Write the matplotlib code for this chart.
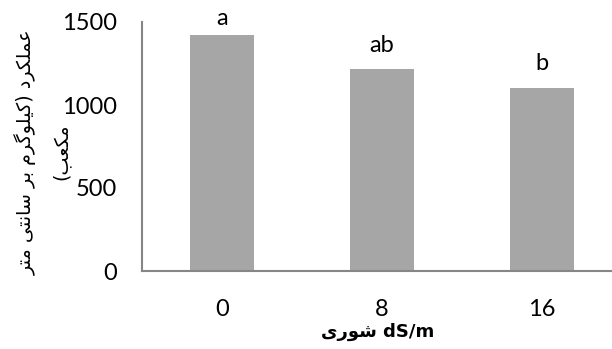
import matplotlib
matplotlib.use("Agg")
import matplotlib.pyplot as plt

# --- data -------------------------------------------------------------
categories = ["0", "8", "16"]
yield_values = [1421, 1215, 1104]
group_letters = ["a", "ab", "b"]
letter_gap = [61, 104, 107]          # space between bar top and letter baseline (data units)
y_ticks = [0, 500, 1000, 1500]

x_title = "شوری"
x_unit = "dS/m"
y_title_lines = ["عملکرد (کیلوگرم بر سانتی متر", "مکعب)"]

# --- minimal Arabic/Persian shaping for display -----------------------
FORMS = {
    "ا": ("\uFE8D", "\uFE8E"),
    "ب": ("\uFE8F", "\uFE90", "\uFE91", "\uFE92"),
    "ت": ("\uFE95", "\uFE96", "\uFE97", "\uFE98"),
    "د": ("\uFEA9", "\uFEAA"),
    "ر": ("\uFEAD", "\uFEAE"),
    "س": ("\uFEB1", "\uFEB2", "\uFEB3", "\uFEB4"),
    "ش": ("\uFEB5", "\uFEB6", "\uFEB7", "\uFEB8"),
    "ع": ("\uFEC9", "\uFECA", "\uFECB", "\uFECC"),
    "ل": ("\uFEDD", "\uFEDE", "\uFEDF", "\uFEE0"),
    "م": ("\uFEE1", "\uFEE2", "\uFEE3", "\uFEE4"),
    "ن": ("\uFEE5", "\uFEE6", "\uFEE7", "\uFEE8"),
    "و": ("\uFEED", "\uFEEE"),
    "ک": ("\uFB8E", "\uFB8F", "\uFB90", "\uFB91"),
    "گ": ("\uFB92", "\uFB93", "\uFB94", "\uFB95"),
    "ی": ("\uFBFC", "\uFBFD", "\uFBFE", "\uFBFF"),
}


def shape_rtl(text):
    out = []
    n = len(text)
    for i, ch in enumerate(text):
        if ch not in FORMS:
            out.append(ch)
            continue
        prev = text[i - 1] if i > 0 else ""
        nxt = text[i + 1] if i < n - 1 else ""
        joins_prev = prev in FORMS and len(FORMS[prev]) == 4
        joins_next = len(FORMS[ch]) == 4 and nxt in FORMS
        f = FORMS[ch]
        if joins_prev and joins_next:
            out.append(f[3])
        elif joins_prev:
            out.append(f[1])
        elif joins_next:
            out.append(f[2])
        else:
            out.append(f[0])
    vis = "".join(reversed(out))
    return vis.translate(str.maketrans("()", ")("))


# --- figure -----------------------------------------------------------
plt.rcParams["font.family"] = ["Lato", "DejaVu Sans"]

fig = plt.figure(figsize=(6.12, 3.49), dpi=100)
ax = fig.add_axes([142 / 612, 78 / 349, 1 - 142 / 612, 249 / 349])

x = range(len(categories))
bars = ax.bar(x, yield_values, width=0.4, color="#A6A6A6", zorder=2)

for xi, v, lab, gap in zip(x, yield_values, group_letters, letter_gap):
    ax.text(xi, v + gap, lab, ha="center", va="baseline", fontsize=17,
            color="black", clip_on=False)

ax.set_xlim(-0.5, 2.4375)
ax.set_ylim(0, 1500)
ax.set_xticks(list(x))
ax.set_xticklabels(categories, fontsize=17)
ax.set_yticks(y_ticks)
ax.set_yticklabels([str(t) for t in y_ticks], fontsize=17)
ax.tick_params(axis="both", length=0)
ax.tick_params(axis="x", pad=20)
ax.tick_params(axis="y", pad=18)

for side in ("top", "right"):
    ax.spines[side].set_visible(False)
for side in ("left", "bottom"):
    ax.spines[side].set_color("#868686")
    ax.spines[side].set_linewidth(1.5)

fig.text(378 / 612, 1 - 332 / 349, shape_rtl(x_title) + " " + x_unit,
         ha="center", va="center", fontsize=13, fontweight="bold",
         family=["DejaVu Sans"])

# two-line rotated y title, one text per line
for line, xpos in zip(y_title_lines, (26 / 612, 61 / 612)):
    fig.text(xpos, 1 - 152 / 349, shape_rtl(line), rotation=90,
             ha="center", va="center", fontsize=13.8,
             family=["DejaVu Sans"])

fig.savefig("out.png", dpi=100)
